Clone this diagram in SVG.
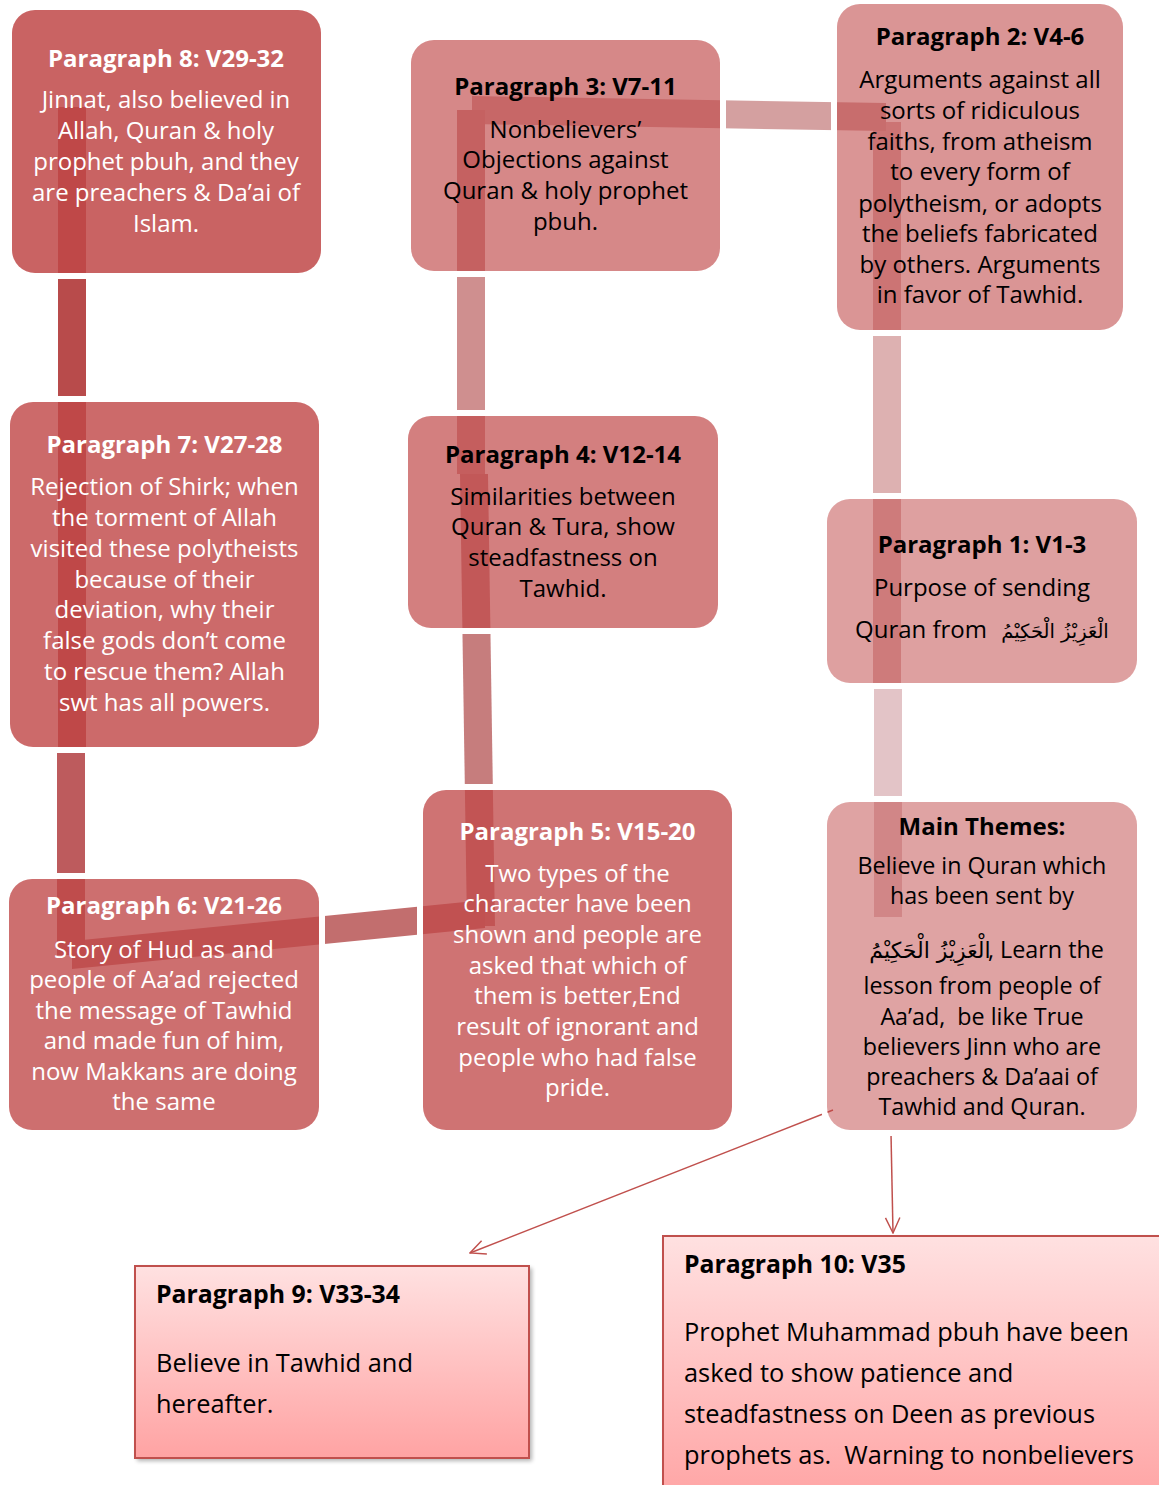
<svg xmlns="http://www.w3.org/2000/svg" width="1159" height="1485" viewBox="0 0 1159 1485">
<style>
.t{font-family:"Open Sans","Noto Sans",sans-serif;font-size:24px;text-anchor:middle}
.m{font-size:23.3px}
.h{font-weight:bold}
.w{fill:#ffffff}
.k{fill:#000000}
.ar{font-family:"DejaVu Sans","Noto Sans",sans-serif;fill:#000;text-anchor:middle}
.ring{fill:none;stroke:#ffffff;stroke-width:6}
.box{fill:#c04848}
.lt{font-family:"Open Sans","Noto Sans",sans-serif;font-size:25.4px;fill:#000;white-space:pre}
.lh{font-family:"Open Sans","Noto Sans",sans-serif;font-size:24.8px;font-weight:bold;fill:#000}
.arrow{stroke:#c0504d;stroke-width:1.5;fill:none}
</style>
<defs>
<marker id="open" viewBox="0 0 20 20" refX="19" refY="10" markerWidth="18" markerHeight="18" markerUnits="userSpaceOnUse" orient="auto">
<path d="M2,2 L19,10 L2,18" fill="none" stroke="#c0504d" stroke-width="1.6"/>
</marker>
<linearGradient id="pink" x1="0" y1="0" x2="0" y2="1">
<stop offset="0" stop-color="#ffe1e1"/>
<stop offset="1" stop-color="#ffa3a3"/>
</linearGradient>
<filter id="sh" x="-10%" y="-10%" width="120%" height="130%">
<feGaussianBlur stdDeviation="2"/>
</filter>
</defs>
<rect width="1159" height="1485" fill="#ffffff"/>

<g id="connectors">
<rect x="874" y="686" width="28" height="231" fill="#e3c4c7"/>
<rect x="873" y="122" width="28" height="564" fill="#ddb1b1"/>
<polygon points="472,96 886,103 886,131 472,124" fill="#d4a0a0"/>
<rect x="457" y="110" width="28" height="364" fill="#cf8f8f"/>
<polygon points="460,474 488,474 495,926 467,926" fill="#c67d7d"/>
<polygon points="485,900 485,928 72,969 72,941" fill="#c26e6e"/>
<rect x="57" y="750" width="28" height="205" fill="#bd5b5d"/>
<rect x="58" y="107" width="28" height="643" fill="#b84b4b"/>
<line class="arrow" x1="833" y1="1110" x2="470" y2="1253" marker-end="url(#open)"/>
<line class="arrow" x1="891" y1="1134" x2="893" y2="1233" marker-end="url(#open)"/>
</g>

<g id="p8">
<rect class="ring" x="9" y="7" width="315" height="269" rx="26"/>
<rect class="box" x="12" y="10" width="309" height="263" rx="23" fill-opacity="0.85"/>
<text class="t h w" x="166" y="67">Paragraph 8: V29-32</text>
<text class="t w" x="166" y="108">Jinnat, also believed in</text>
<text class="t w" x="166" y="139">Allah, Quran &amp; holy</text>
<text class="t w" x="166" y="170">prophet pbuh, and they</text>
<text class="t w" x="166" y="201">are preachers &amp; Da’ai of</text>
<text class="t w" x="166" y="232">Islam.</text>
</g>

<g id="p7">
<rect class="ring" x="7" y="399" width="315" height="351" rx="26"/>
<rect class="box" x="10" y="402" width="309" height="345" rx="23" fill-opacity="0.81"/>
<text class="t h w" x="164.5" y="453">Paragraph 7: V27-28</text>
<text class="t w" x="164.5" y="495">Rejection of Shirk; when</text>
<text class="t w" x="164.5" y="526">the torment of Allah</text>
<text class="t w" x="164.5" y="557">visited these polytheists</text>
<text class="t w" x="164.5" y="588">because of their</text>
<text class="t w" x="164.5" y="618">deviation, why their</text>
<text class="t w" x="164.5" y="649">false gods don’t come</text>
<text class="t w" x="164.5" y="680">to rescue them? Allah</text>
<text class="t w" x="164.5" y="711">swt has all powers.</text>
</g>

<g id="p6">
<rect class="ring" x="6" y="876" width="316" height="257" rx="26"/>
<rect class="box" x="9" y="879" width="310" height="251" rx="23" fill-opacity="0.79"/>
<text class="t h w" x="164" y="914">Paragraph 6: V21-26</text>
<text class="t w" x="164" y="958">Story of Hud as and</text>
<text class="t w" x="164" y="988">people of Aa’ad rejected</text>
<text class="t w" x="164" y="1019">the message of Tawhid</text>
<text class="t w" x="164" y="1049">and made fun of him,</text>
<text class="t w" x="164" y="1080">now Makkans are doing</text>
<text class="t w" x="164" y="1110">the same</text>
</g>

<g id="p3">
<rect class="ring" x="408" y="37" width="315" height="237" rx="26"/>
<rect class="box" x="411" y="40" width="309" height="231" rx="23" fill-opacity="0.65"/>
<text class="t h k" x="565.5" y="95">Paragraph 3: V7-11</text>
<text class="t k" x="565.5" y="138">Nonbelievers’</text>
<text class="t k" x="565.5" y="168">Objections against</text>
<text class="t k" x="565.5" y="199">Quran &amp; holy prophet</text>
<text class="t k" x="565.5" y="230">pbuh.</text>
</g>

<g id="p4">
<rect class="ring" x="405" y="413" width="316" height="218" rx="26"/>
<rect class="box" x="408" y="416" width="310" height="212" rx="23" fill-opacity="0.70"/>
<text class="t h k" x="563" y="463">Paragraph 4: V12-14</text>
<text class="t k" x="563" y="505">Similarities between</text>
<text class="t k" x="563" y="535">Quran &amp; Tura, show</text>
<text class="t k" x="563" y="566">steadfastness on</text>
<text class="t k" x="563" y="597">Tawhid.</text>
</g>

<g id="p5">
<rect class="ring" x="420" y="787" width="315" height="346" rx="26"/>
<rect class="box" x="423" y="790" width="309" height="340" rx="23" fill-opacity="0.765"/>
<text class="t h w" x="577.5" y="840">Paragraph 5: V15-20</text>
<text class="t w" x="577.5" y="882">Two types of the</text>
<text class="t w" x="577.5" y="912">character have been</text>
<text class="t w" x="577.5" y="943">shown and people are</text>
<text class="t w" x="577.5" y="974">asked that which of</text>
<text class="t w" x="577.5" y="1004">them is better,End</text>
<text class="t w" x="577.5" y="1035">result of ignorant and</text>
<text class="t w" x="577.5" y="1066">people who had false</text>
<text class="t w" x="577.5" y="1096">pride.</text>
</g>

<g id="p2">
<rect class="ring" x="834" y="1" width="292" height="332" rx="26"/>
<rect class="box" x="837" y="4" width="286" height="326" rx="23" fill-opacity="0.58"/>
<text class="t h k" x="980" y="45">Paragraph 2: V4-6</text>
<text class="t k" x="980" y="88">Arguments against all</text>
<text class="t k" x="980" y="119">sorts of ridiculous</text>
<text class="t k" x="980" y="150">faiths, from atheism</text>
<text class="t k" x="980" y="180">to every form of</text>
<text class="t k" x="980" y="212">polytheism, or adopts</text>
<text class="t k" x="980" y="242">the beliefs fabricated</text>
<text class="t k" x="980" y="273">by others. Arguments</text>
<text class="t k" x="980" y="303">in favor of Tawhid.</text>
</g>

<g id="p1">
<rect class="ring" x="824" y="496" width="316" height="190" rx="26"/>
<rect class="box" x="827" y="499" width="310" height="184" rx="23" fill-opacity="0.52"/>
<text class="t h k" x="982" y="553">Paragraph 1: V1-3</text>
<text class="t k" x="982" y="596">Purpose of sending</text>
<text class="t k" x="855" y="638" style="text-anchor:start">Quran from</text>
<text class="ar" x="1055" y="638" font-size="19.5">الْعَزِيْزُ الْحَكِيْمُ</text>
</g>

<g id="main">
<rect class="ring" x="824" y="799" width="316" height="334" rx="26"/>
<rect class="box" x="827" y="802" width="310" height="328" rx="23" fill-opacity="0.50"/>
<text class="t h k" x="982" y="835">Main Themes:</text>
<text class="t m k" x="982" y="874">Believe in Quran which</text>
<text class="t m k" x="982" y="904">has been sent by</text>
<text class="ar" x="930" y="958" font-size="22">الْعَزِيْزُ الْحَكِيْمُ</text>
<text class="t m k" x="988" y="958" style="text-anchor:start">, Learn the</text>
<text class="t m k" x="982" y="994">lesson from people of</text>
<text class="t m k" x="982" y="1024.5" style="white-space:pre">Aa’ad,  be like True</text>
<text class="t m k" x="982" y="1055">believers Jinn who are</text>
<text class="t m k" x="982" y="1085">preachers &amp; Da’aai of</text>
<text class="t m k" x="982" y="1115">Tawhid and Quran.</text>
</g>

<g id="p9">
<rect x="137" y="1268" width="395" height="193" fill="#000" opacity="0.3" filter="url(#sh)"/>
<rect x="135" y="1266" width="394" height="192" fill="url(#pink)" stroke="#c0504d" stroke-width="2"/>
<text class="lh" x="156" y="1303">Paragraph 9: V33-34</text>
<text class="lt" x="156" y="1372">Believe in Tawhid and</text>
<text class="lt" x="156" y="1413">hereafter.</text>
</g>

<g id="p10">
<rect x="665" y="1238" width="510" height="270" fill="#000" opacity="0.3" filter="url(#sh)"/>
<rect x="663" y="1236" width="510" height="270" fill="url(#pink)" stroke="#c0504d" stroke-width="2"/>
<text class="lh" x="684" y="1273">Paragraph 10: V35</text>
<text class="lt" x="684" y="1341">Prophet Muhammad pbuh have been</text>
<text class="lt" x="684" y="1382">asked to show patience and</text>
<text class="lt" x="684" y="1423">steadfastness on Deen as previous</text>
<text class="lt" x="684" y="1464">prophets as.  Warning to nonbelievers</text>
</g>
</svg>
